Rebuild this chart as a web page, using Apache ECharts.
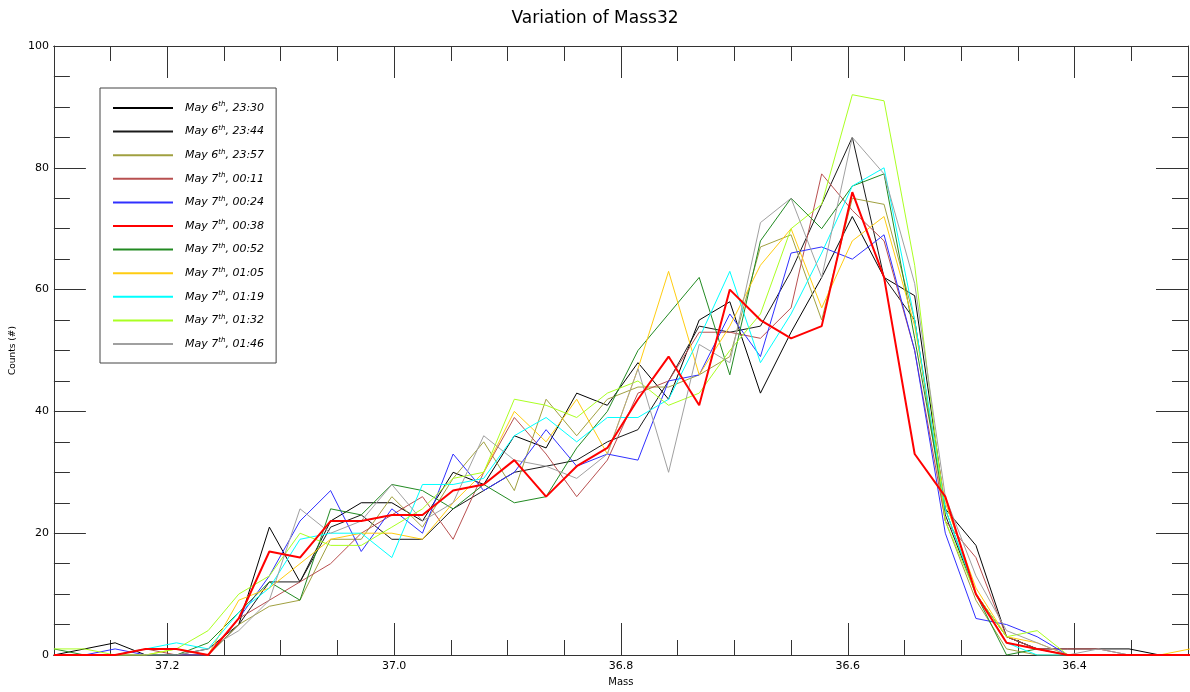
<!DOCTYPE html>
<html>
<head>
<meta charset="utf-8">
<script src="https://cdn.jsdelivr.net/npm/echarts@6/dist/echarts.min.js"></script>
<style>
html,body{margin:0;padding:0;background:#fff;}
#chart{width:1190px;height:692px;}
</style>
</head>
<body>
<div id="chart"></div>
<script>
// Mass axis positions (shared by all series)
const mass = [37.300, 37.273, 37.246, 37.219, 37.192, 37.164, 37.137, 37.110, 37.083, 37.056,
  37.029, 37.002, 36.975, 36.948, 36.921, 36.894, 36.866, 36.839, 36.812, 36.785,
  36.758, 36.731, 36.704, 36.677, 36.650, 36.623, 36.596, 36.568, 36.541, 36.514,
  36.487, 36.460, 36.433, 36.406, 36.379, 36.352, 36.325, 36.298];

const labels = ['May 6th, 23:30', 'May 6th, 23:44', 'May 6th, 23:57', 'May 7th, 00:11',
  'May 7th, 00:24', 'May 7th, 00:38', 'May 7th, 00:52', 'May 7th, 01:05',
  'May 7th, 01:19', 'May 7th, 01:32', 'May 7th, 01:46'];

const s2330 = [0,1,2,0,0,0,5,21,12,22,25,25,22,30,28,36,34,43,41,48,42,55,58,43,53,62,72,62,59,24,18,3,1,1,1,1,0,0];
const s2344 = [0,0,0,0,0,1,5,12,12,21,23,19,19,24,27,30,31,32,35,37,45,54,53,54,63,74,85,62,55,23,10,3,1,0,0,0,0,0];
const s2357 = [0,0,0,0,0,0,5,8,9,19,19,26,21,29,35,27,42,36,42,44,44,46,49,67,69,55,75,74,55,22,9,1,0,0,0,0,0,0];
const s0011 = [0,0,0,1,0,0,6,9,12,15,20,23,26,19,30,39,33,26,32,43,45,53,53,52,57,79,73,68,50,22,16,3,1,1,1,0,0,0];
const s0024 = [0,0,1,0,0,0,6,13,22,27,17,24,20,33,27,30,37,31,33,32,45,46,56,49,66,67,65,69,50,20,6,5,3,0,0,0,0,0];
const s0038 = [0,0,0,1,1,0,6,17,16,22,22,23,23,27,28,32,26,31,34,42,49,41,60,55,52,54,76,62,33,26,10,2,1,0,0,0,0,0];
const s0052 = [1,0,0,0,0,2,7,12,9,24,23,28,27,24,28,25,26,34,40,50,56,62,46,68,75,70,77,79,52,24,10,0,1,0,0,0,0,0];
const s0105 = [0,0,0,0,1,0,9,11,15,19,20,20,19,25,30,40,35,42,33,47,63,46,54,64,70,57,68,72,54,25,11,3,2,0,0,0,0,1];
const s0119 = [0,0,0,1,2,1,7,11,19,20,20,16,28,28,29,36,39,35,39,39,42,52,63,48,56,66,77,80,55,24,10,2,0,0,0,0,0,0];
const s0132 = [1,1,0,0,1,4,10,13,20,18,18,21,24,29,30,42,41,39,43,45,41,43,50,56,70,74,92,91,64,22,10,3,4,0,0,0,0,0];
const s0146 = [0,0,0,0,0,1,4,9,24,20,22,28,22,25,36,32,31,29,33,47,30,51,48,71,75,62,85,79,61,26,13,4,2,0,1,0,0,0];

const majorTicksX = [37.2, 37.0, 36.8, 36.6, 36.4];

const seriesValues = [s2330, s2344, s2357, s0011, s0024, s0038, s0052, s0105, s0119, s0132, s0146];
const colors = ['#000000', '#1a1a1a', '#a0a040', '#b85050', '#3030ff', '#ff0000',
  '#228a22', '#ffcc11', '#00ffff', '#aaff22', '#a0a0a0'];

const chart = echarts.init(document.getElementById('chart'));
const FONT = 'DejaVu Sans';
const axisCol = '#333';

const series = seriesValues.map((vals, i) => ({
  name: labels[i],
  type: 'line',
  xAxisIndex: 0,
  yAxisIndex: 0,
  data: vals.map((v, k) => [mass[k], v]),
  symbol: 'none',
  showSymbol: false,
  clip: true,
  animation: false,
  z: i === 5 ? 5 : 3,
  lineStyle: { color: colors[i], width: i === 5 ? 2 : 1 },
  itemStyle: { color: colors[i] }
}));

function xAx(pos, major, showLabel) {
  return {
    type: 'value', position: pos, min: 36.3, max: 37.3, inverse: true,
    interval: 0.05,
    axisLine: { show: true, onZero: false, lineStyle: { color: axisCol, width: 1 } },
    axisTick: major
      ? { show: true, inside: true, length: 32, customValues: majorTicksX, lineStyle: { color: axisCol } }
      : { show: true, inside: true, length: 15, lineStyle: { color: axisCol } },
    axisLabel: showLabel
      ? { show: true, customValues: majorTicksX, formatter: v => v.toFixed(1), color: '#000', fontFamily: FONT, fontSize: 11, margin: 6 }
      : { show: false },
    splitLine: { show: false },
    name: showLabel ? 'Mass' : '',
    nameLocation: 'middle', nameGap: 22,
    nameTextStyle: { color: '#000', fontFamily: FONT, fontSize: 10 }
  };
}

function yAx(pos, showLabel) {
  return {
    type: 'value', position: pos, min: 0, max: 100, interval: 20,
    axisLine: { show: true, lineStyle: { color: axisCol, width: 1 } },
    axisTick: { show: true, inside: true, length: 32, lineStyle: { color: axisCol } },
    minorTick: { show: true, splitNumber: 4, length: 16, lineStyle: { color: axisCol } },
    axisLabel: showLabel ? { show: true, color: '#000', fontFamily: FONT, fontSize: 11, margin: 5 } : { show: false },
    splitLine: { show: false },
    name: showLabel ? 'Counts (#)' : '',
    nameLocation: 'middle', nameGap: 35,
    nameTextStyle: { color: '#000', fontFamily: FONT, fontSize: 9 }
  };
}

const option = {
  backgroundColor: '#ffffff',
  animation: false,
  title: {
    text: 'Variation of Mass32', left: 'center', top: 5,
    textStyle: { fontFamily: FONT, fontSize: 17, fontWeight: 'normal', color: '#000' }
  },
  grid: { left: 50, right: 2, top: 46, bottom: 34, containLabel: false },
  xAxis: [xAx('bottom', false, true), xAx('bottom', true, false), xAx('top', false, false), xAx('top', true, false)],
  yAxis: [yAx('left', true), yAx('right', false)],
  legend: {
    orient: 'vertical', left: 100, top: 88,
    padding: [13, 12, 13, 12],
    itemGap: 10.6, itemWidth: 60, itemHeight: 13,
    borderColor: '#444', borderWidth: 1, backgroundColor: '#fff',
    itemStyle: { opacity: 0 },
    data: labels,
    formatter: n => {
      const m = n.match(/^(May \d)th(, .*)$/);
      return '{a|' + m[1] + '}{s|th}{a|' + m[2] + '}';
    },
    textStyle: {
      padding: [0, 0, 0, 7],
      rich: {
        a: { fontFamily: FONT, fontStyle: 'italic', fontSize: 11, color: '#000', lineHeight: 14 },
        s: { fontFamily: FONT, fontStyle: 'italic', fontSize: 7, color: '#000', verticalAlign: 'top', lineHeight: 8, padding: [0, 0, 6, 0] }
      }
    }
  },
  series: series
};
chart.setOption(option);
</script>
</body>
</html>
